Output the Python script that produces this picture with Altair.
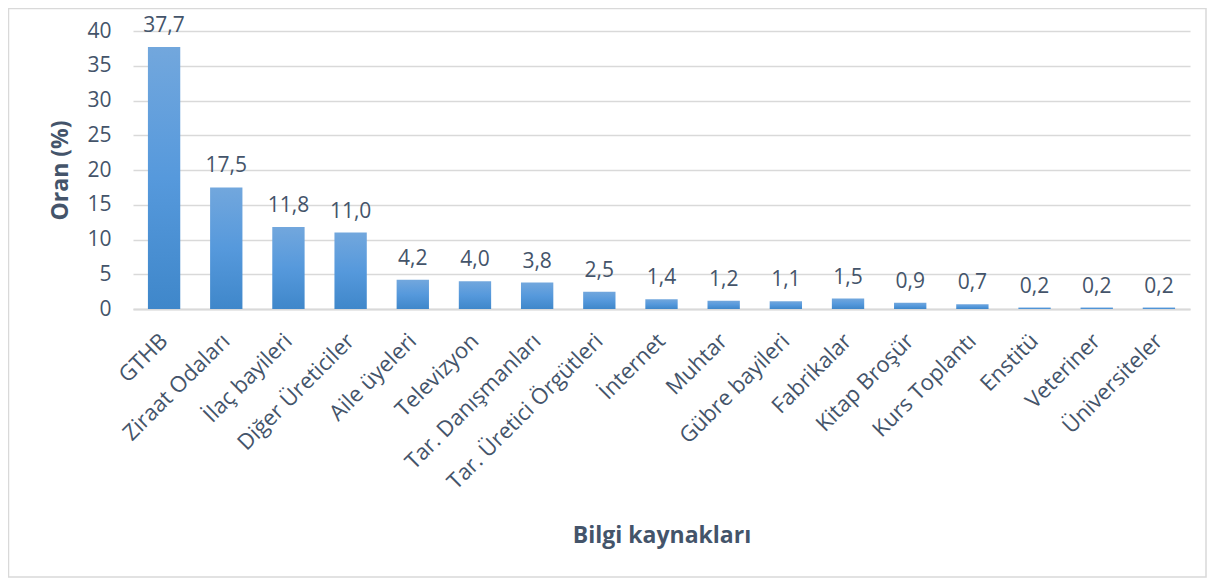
import altair as alt
import pandas as pd

categories = ["GTHB", "Ziraat Odaları", "İlaç bayileri", "Diğer Üreticiler", "Aile üyeleri",
              "Televizyon", "Tar. Danışmanları", "Tar. Üretici Örgütleri", "İnternet", "Muhtar",
              "Gübre bayileri", "Fabrikalar", "Kitap Broşür", "Kurs Toplantı", "Enstitü",
              "Veteriner", "Üniversiteler"]
values = [37.7, 17.5, 11.8, 11.0, 4.2, 4.0, 3.8, 2.5, 1.4, 1.2, 1.1, 1.5, 0.9, 0.7, 0.2, 0.2, 0.2]
y_ticks = [0, 5, 10, 15, 20, 25, 30, 35, 40]

df = pd.DataFrame({
    "kaynak": categories,
    "oran": values,
    "etiket": [f"{v:.1f}".replace(".", ",") for v in values],
})

FONT = "Open Sans"
TXT = "#44546A"

x_enc = alt.X("kaynak:N", sort=categories, title="Bilgi kaynakları",
              scale=alt.Scale(paddingInner=0.48, paddingOuter=0.24),
              axis=alt.Axis(labelAngle=-45, labelAlign="right", labelBaseline="middle",
                            labelPadding=28, ticks=False, domainColor="#D9D9D9", domainWidth=2,
                            labelFont=FONT, labelFontSize=22, labelColor=TXT, labelLimit=400,
                            labelOverlap=False,
                            titleFont=FONT, titleFontSize=23, titleFontWeight="bold",
                            titleColor=TXT, titlePadding=32))
y_enc = alt.Y("oran:Q", title="Oran (%)",
              scale=alt.Scale(domain=[0, 40], nice=False),
              axis=alt.Axis(values=y_ticks, domain=False, ticks=False, labelPadding=22,
                            labelOverlap=False,
                            gridColor="#D9D9D9", gridWidth=1.5,
                            labelFont=FONT, labelFontSize=21, labelColor=TXT,
                            titleFont=FONT, titleFontSize=23, titleFontWeight="bold",
                            titleColor=TXT, titlePadding=14))

grad = alt.LinearGradient(gradient="linear", x1=0, y1=0, x2=0, y2=1,
                          stops=[alt.GradientStop(color="#72A7DD", offset=0),
                                 alt.GradientStop(color="#5699DC", offset=0.5),
                                 alt.GradientStop(color="#3F87CA", offset=1)])

bars = alt.Chart(df).mark_bar(color=grad).encode(x=x_enc, y=y_enc)
labels = alt.Chart(df).mark_text(dy=-21, font=FONT, fontSize=21, color=TXT).encode(
    x=x_enc, y=y_enc, text="etiket:N")

border = alt.Chart(alt.Data(values=[{"a": 1}])).mark_rect(
    fill=None, stroke="#D9D9D9", strokeWidth=1.5).encode(
    x=alt.value(-124.5), x2=alt.value(1073), y=alt.value(-22.5), y2=alt.value(546))

chart = alt.layer(bars, labels, border).properties(
    width=1057, height=278,
    padding={"left": 125, "top": 23, "right": 17, "bottom": 269},
    autosize=alt.AutoSizeParams(type="none"),
).configure_view(stroke=None)

chart.save("out.html", embed_options={"renderer": "svg", "actions": False})
